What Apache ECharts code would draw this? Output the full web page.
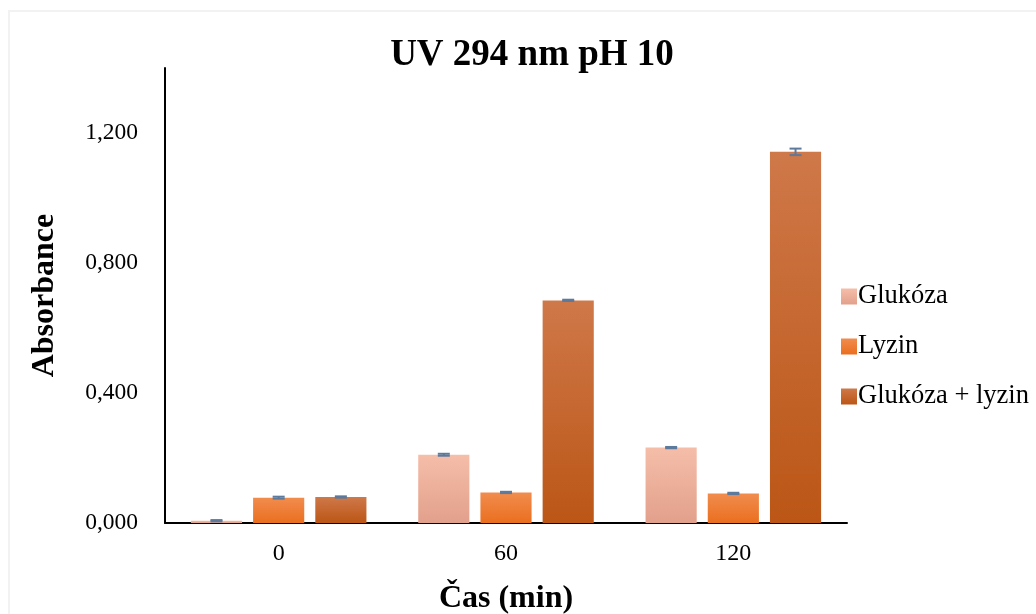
<!DOCTYPE html>
<html>
<head>
<meta charset="utf-8">
<script src="https://cdn.jsdelivr.net/npm/echarts@6/dist/echarts.min.js"></script>
<style>
  body { margin: 0; background: #fff; overflow: hidden; }
  #chart { width: 1036px; height: 614px; }
  #frame { position: absolute; left: 8px; top: 10px; width: 1040px; height: 620px; border: 2px solid #f2f2f2; pointer-events: none; }
</style>
</head>
<body>
<div id="chart"></div>
<div id="frame"></div>
<script>
var categories = ['0', '60', '120'];
var seriesNames = ['Glukóza', 'Lyzin', 'Glukóza + lyzin'];
var glukoza = [0.007, 0.210, 0.232];
var lyzin = [0.078, 0.094, 0.091];
var glukozaLyzin = [0.080, 0.685, 1.142];
var errGlukoza = [0.002, 0.003, 0.002];
var errLyzin = [0.003, 0.002, 0.002];
var errGlukozaLyzin = [0.002, 0.002, 0.010];

var values = [glukoza, lyzin, glukozaLyzin];
var errors = [errGlukoza, errLyzin, errGlukozaLyzin];

var fills = [
  ['#f5bea9', '#e2a08b'],
  ['#f18c4e', '#ea6f1f'],
  ['#cf7849', '#bb5616']
];

var BAR_W = 0.225;   // share of category width
var BAR_GAP = 0.216; // share of bar width
var font = '"Liberation Serif", "Times New Roman", serif';

function grad(c) {
  return new echarts.graphic.LinearGradient(0, 0, 0, 1, [
    { offset: 0, color: c[0] },
    { offset: 1, color: c[1] }
  ]);
}

var myChart = echarts.init(document.getElementById('chart'));

var series = seriesNames.map(function (name, i) {
  return {
    name: name,
    type: 'bar',
    barWidth: (BAR_W * 100) + '%',
    barGap: (BAR_GAP * 100) + '%',
    itemStyle: { color: grad(fills[i]) },
    data: values[i]
  };
});

seriesNames.forEach(function (name, i) {
  series.push({
    type: 'custom',
    name: name + ' err',
    silent: true,
    z: 10,
    data: values[i].map(function (v, k) { return [k, v, errors[i][k]]; }),
    renderItem: function (params, api) {
      var k = api.value(0);
      var v = api.value(1);
      var e = api.value(2);
      var band = api.size([1, 0])[0];
      var bw = band * BAR_W;
      var off = (i - 1) * bw * (1 + BAR_GAP);
      var top = api.coord([k, v + e]);
      var bot = api.coord([k, v - e]);
      var x = top[0] + off;
      var cap = 6;
      var st = { stroke: '#5d7a9c', lineWidth: 2 };
      return {
        type: 'group',
        children: [
          { type: 'line', shape: { x1: x, y1: top[1], x2: x, y2: bot[1] }, style: st },
          { type: 'line', shape: { x1: x - cap, y1: top[1], x2: x + cap, y2: top[1] }, style: st },
          { type: 'line', shape: { x1: x - cap, y1: bot[1], x2: x + cap, y2: bot[1] }, style: st }
        ]
      };
    }
  });
});

var option = {
  animation: false,
  title: {
    text: 'UV 294 nm pH 10',
    left: 527,
    top: 32,
    textAlign: 'center',
    textStyle: { fontFamily: font, fontWeight: 'bold', fontSize: 37, color: '#000' }
  },
  legend: {
    orient: 'vertical',
    left: 836,
    top: 278,
    itemGap: 23,
    itemWidth: 16,
    itemHeight: 16,
    icon: 'rect',
    data: seriesNames,
    textStyle: { fontFamily: font, fontSize: 26.5, color: '#000', padding: [0, 0, 0, -4] }
  },
  grid: { left: 165, right: 189, top: 68, bottom: 91, outerBoundsMode: 'none' },
  xAxis: {
    type: 'category',
    data: categories,
    name: 'Čas (min)',
    nameLocation: 'middle',
    nameGap: 60,
    nameMoveOverlap: false,
    nameTextStyle: { fontFamily: font, fontWeight: 'bold', fontSize: 32, color: '#000' },
    axisLine: { lineStyle: { color: '#000', width: 2 } },
    axisTick: { show: false },
    axisLabel: { fontFamily: font, fontSize: 24, color: '#000', margin: 19 }
  },
  yAxis: {
    type: 'value',
    min: 0,
    max: 1.4,
    interval: 0.4,
    name: 'Absorbance',
    nameLocation: 'middle',
    nameGap: 104,
    nameMoveOverlap: false,
    nameTextStyle: { fontFamily: font, fontWeight: 'bold', fontSize: 32, color: '#000' },
    axisLine: { show: true, lineStyle: { color: '#000', width: 2 } },
    axisTick: { show: false },
    splitLine: { show: false },
    axisLabel: {
      fontFamily: font,
      fontSize: 23.5,
      color: '#000',
      margin: 27,
      showMaxLabel: false,
      formatter: function (v) { return v.toFixed(3).replace('.', ','); }
    }
  },
  series: series
};

myChart.setOption(option);
</script>
</body>
</html>
